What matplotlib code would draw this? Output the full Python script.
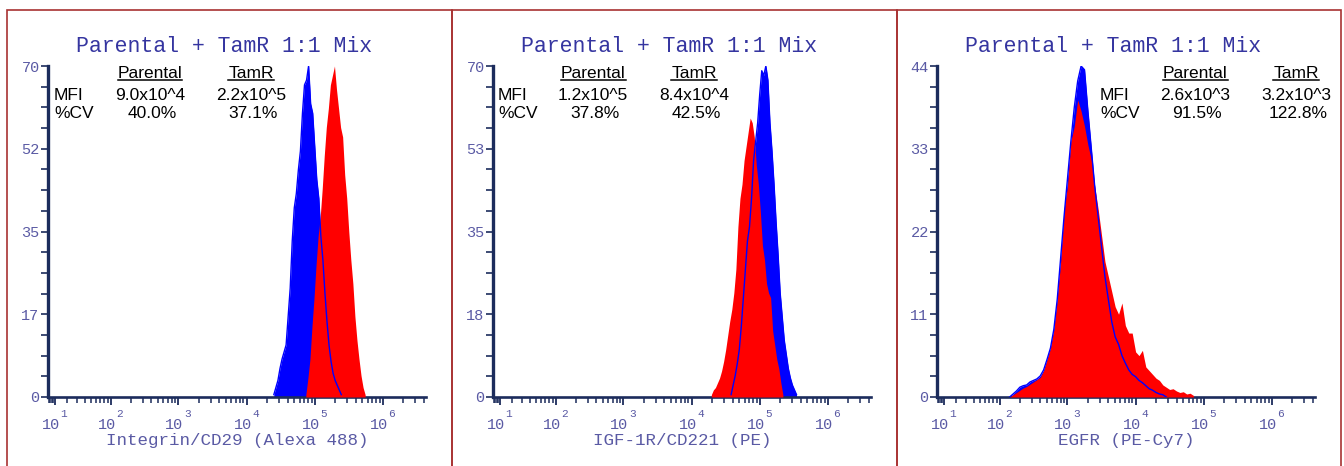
import numpy as np
import matplotlib.pyplot as plt
import matplotlib.transforms as mtransforms
from matplotlib.lines import Line2D
from matplotlib.patches import Rectangle

title = "Parental + TamR 1:1 Mix"
xlabels = ["Integrin/CD29 (Alexa 488)", "IGF-1R/CD221 (PE)", "EGFR (PE-Cy7)"]
ymax = [70, 70, 44]
ytick_labels = [["0", "17", "35", "52", "70"],
                ["0", "18", "35", "53", "70"],
                ["0", "11", "22", "33", "44"]]
decades = [1, 2, 3, 4, 5, 6]
mfi_par = ["9.0x10^4", "1.2x10^5", "2.6x10^3"]
mfi_tamr = ["2.2x10^5", "8.4x10^4", "3.2x10^3"]
cv_par = ["40.0%", "37.8%", "91.5%"]
cv_tamr = ["37.1%", "42.5%", "122.8%"]

# histograms: first channel (log10 of intensity), channel width in decades, counts
cd29_par_start, cd29_step = 4.40, 0.03
cd29_par = [0.5, 2, 3.5, 6, 8, 9.5, 11, 17, 23, 33, 40, 43, 48, 52, 60, 66, 67, 70,
            62, 60, 53, 46, 42, 34, 29, 22, 16, 11, 7.5, 5, 3.5, 2.5, 1.5, 0.5]
cd29_tamr_start = 4.87
cd29_tamr = [0.5, 4, 8, 15, 21, 28, 34, 38, 44, 51, 57, 61, 66, 68, 70, 65, 61, 57,
             55, 47, 42, 35, 29, 24, 17, 12, 8, 4.5, 2, 0.5]

cd221_par_start, cd221_step = 4.58, 0.03
cd221_par = [0.5, 2.5, 4.5, 7, 10, 15, 21, 27, 33, 36, 42, 50, 54, 58, 64, 69, 68,
             70, 67, 58, 52, 45, 37, 30, 22, 17, 12, 9, 6, 4, 2.5, 1.5, 0.5]
cd221_tamr_start = 4.29
cd221_tamr = [0.5, 1.5, 2, 3, 4, 5.5, 7.5, 10, 13, 16, 18.5, 22, 27, 36, 42, 45, 50,
              53, 56, 59, 58, 55, 49, 45, 39, 32, 29, 24, 22, 21, 14, 11, 8, 6, 3, 0.5]

egfr_par_start, egfr_step = 2.15, 0.05
egfr_par = [0, 0.4, 0.8, 1.3, 1.5, 1.6, 2.0, 2.2, 2.4, 2.8, 3.6, 5, 6.5, 9, 13, 18.5,
            24, 29, 34, 38.5, 42, 44, 43.5, 38, 33, 28, 24, 20, 16, 13, 10, 8, 7, 5.5,
            4.5, 3.6, 3, 2.7, 2.2, 1.9, 1.5, 1.1, 0.9, 0.6, 0.4, 0.3, 0]
egfr_tamr_start = 2.15
egfr_tamr = [0, 0.3, 0.6, 0.9, 1.2, 1.4, 1.7, 2.0, 2.3, 2.6, 3.5, 5, 6.5, 9, 13, 18,
             25, 28, 34, 36, 39.5, 38, 36, 33.5, 31.5, 28, 25, 21.5, 18, 16, 14, 12,
             11, 12.5, 9.5, 8.5, 8.5, 6, 5.5, 6.2, 4, 3.5, 3.0, 2.5, 2.2, 1.6, 1.3,
             1.0, 1.1, 0.8, 0.6, 0.7, 0.4, 0.5, 0.2]

panels = [
    (cd29_par_start, cd29_par, cd29_tamr_start, cd29_tamr, cd29_step),
    (cd221_par_start, cd221_par, cd221_tamr_start, cd221_tamr, cd221_step),
    (egfr_par_start, egfr_par, egfr_tamr_start, egfr_tamr, egfr_step),
]


def channels(start, counts, step):
    return 10 ** (start + step * np.arange(len(counts)))


navy = "#1c2c5c"
lab_col = "#5a5aa4"
title_col = "#3535a0"
box_col = "#a83232"
mono = "Liberation Mono"
sans = "Liberation Sans"

W, H = 1344, 466
fig = plt.figure(figsize=(W / 100, H / 100), dpi=100)

# panel frames
for x0, x1 in [(7, 452), (452, 897), (897, 1341)]:
    fig.patches.append(Rectangle((x0 / W, -0.1), (x1 - x0) / W, (H - 10) / H + 0.1,
                                 transform=fig.transFigure, fill=False,
                                 ec=box_col, lw=1.2))

lefts = [48, 493, 937]
stat_x = [(0.016, 0.27, 0.537), (0.013, 0.265, 0.532), (0.431, 0.683, 0.95)]
headers = []

for i, ax_left in enumerate(lefts):
    ax = fig.add_axes([ax_left / W, (H - 397) / H, 378 / W, 331 / H])
    ax.set_xscale("function", functions=(lambda x: np.arcsinh(x / 18.0),
                                         lambda y: 18.0 * np.sinh(y)))
    ax.set_xlim(5.5, 4.3e6)
    ax.set_ylim(0, ymax[i])

    ps, pc, ts, tc, st = panels[i]
    xp = channels(ps, pc, st)
    xt = channels(ts, tc, st)
    ax.fill_between(xp, pc, color="#0000ff", lw=0, zorder=2)
    ax.fill_between(xt, tc, color="#ff0000", lw=0, zorder=3)
    ax.plot(xp, pc, color="#0000ff", lw=1.0, zorder=4)

    for s in ["top", "right"]:
        ax.spines[s].set_visible(False)
    ax.spines["left"].set_linewidth(2.4)
    ax.spines["bottom"].set_linewidth(1.9)
    ax.spines["left"].set_color(navy)
    ax.spines["bottom"].set_color(navy)

    ax.set_yticks(np.linspace(0, ymax[i], 5))
    ax.set_yticks(np.linspace(0, ymax[i], 17), minor=True)
    ax.set_yticklabels(ytick_labels[i], family=mono, size=11, color=lab_col)
    ax.tick_params(axis="y", which="both", length=5, width=1.2, color=navy, pad=1)

    major = [10.0 ** k for k in decades]
    minor = [m * 10.0 ** k for k in range(0, 7) for m in range(2, 10)
             if 5.5 < m * 10.0 ** k < 4.3e6]
    ax.set_xticks(major)
    ax.set_xticks(minor, minor=True)
    ax.set_xticklabels([])
    ax.tick_params(axis="x", which="major", length=6, width=1.3, color=navy)
    ax.tick_params(axis="x", which="minor", length=4, width=1.1, color=navy)

    trans = mtransforms.blended_transform_factory(ax.transData, ax.transAxes)
    for k in decades:
        t1 = mtransforms.offset_copy(trans, fig=fig, x=-4, y=-28, units="dots")
        t2 = mtransforms.offset_copy(trans, fig=fig, x=9, y=-17, units="dots")
        ax.text(10.0 ** k, 0, "10", transform=t1, ha="center", va="center",
                family=mono, size=11, color=lab_col)
        ax.text(10.0 ** k, 0, str(k), transform=t2, ha="center", va="center",
                family=mono, size=8, color=lab_col)

    ax.text(176 / 378, 1 + 20 / 331, title, transform=ax.transAxes, ha="center",
            va="center", family=mono, size=15.5, color=title_col)
    ax.text(0.5, -43 / 331, xlabels[i], transform=ax.transAxes, ha="center",
            va="center", family=mono, size=12.6, color=lab_col)

    xm, xpp, xtt = stat_x[i]
    kw = dict(transform=ax.transAxes, va="center", family=sans, size=12.5,
              color="black", zorder=6)
    headers.append(ax.text(xpp, 0.976, "Parental", ha="center", **kw))
    headers.append(ax.text(xtt, 0.976, "TamR", ha="center", **kw))
    ax.text(xm, 0.912, "MFI", ha="left", **kw)
    ax.text(xm, 0.855, "%CV", ha="left", **kw)
    ax.text(xpp, 0.912, mfi_par[i], ha="center", **kw)
    ax.text(xtt, 0.912, mfi_tamr[i], ha="center", **kw)
    ax.text(xpp + 0.005, 0.855, cv_par[i], ha="center", **kw)
    ax.text(xtt + 0.005, 0.855, cv_tamr[i], ha="center", **kw)

# underline the column headers
fig.canvas.draw()
r = fig.canvas.get_renderer()
for t in headers:
    bb = t.get_window_extent(r)
    y = (bb.y0 + 1) / H
    fig.lines.append(Line2D([bb.x0 / W, bb.x1 / W], [y, y], color="black",
                            lw=1.1, transform=fig.transFigure))

fig.savefig("out.png", dpi=100, facecolor="white")
